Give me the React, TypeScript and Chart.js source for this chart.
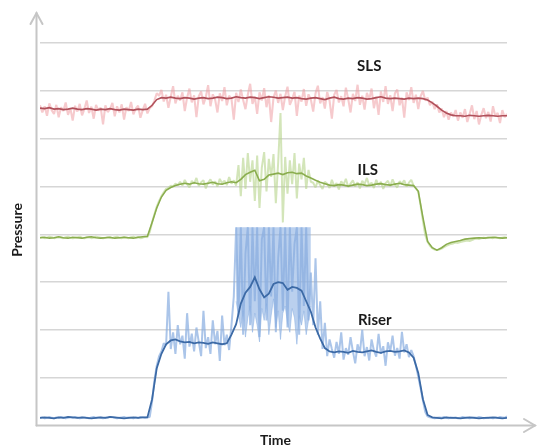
import { useEffect, useRef } from "react";
import { Chart, registerables } from "chart.js";

Chart.register(...registerables);

// ---- data (time axis 0..100, pressure in arbitrary units) ----
const RAW_STEP = 0.5;
const SMOOTH_STEP = 1;

const slsRaw = [
  6.70, 6.55, 6.68, 6.48, 6.74, 6.60, 6.52, 6.71, 6.45, 6.66,
  6.58, 6.76, 6.50, 6.64, 6.38, 6.69, 6.57, 6.73, 6.49, 6.62,
  6.80, 6.54, 6.67, 6.42, 6.71, 6.59, 6.65, 6.30, 6.70, 6.56,
  6.62, 6.75, 6.47, 6.68, 6.55, 6.72, 6.40, 6.66, 6.58, 6.77,
  6.51, 6.63, 6.69, 6.44, 6.60, 6.73, 6.53, 6.64,
  6.68, 6.80, 6.95, 6.90,
  7.02, 6.78, 6.92, 6.65, 6.88, 7.10, 6.74, 6.90,
  6.80, 6.97, 6.58, 6.86, 7.05, 6.76, 6.91, 6.45, 6.89, 6.99,
  6.72, 6.87, 7.12, 6.68, 6.93, 6.82, 6.55, 6.95, 6.79, 7.08,
  6.70, 6.90, 6.84, 6.40, 6.96, 6.77, 7.03, 6.81, 6.62, 6.92,
  7.15, 6.73, 6.88, 6.52, 6.97, 6.80, 7.06, 6.66, 6.91, 6.35,
  6.86, 7.01, 6.75, 6.94, 6.60, 6.89, 7.09, 6.71, 6.83, 6.98,
  6.48, 6.90, 6.78, 7.04, 6.69, 6.93, 6.82, 6.57, 6.95, 7.11,
  6.74, 6.87, 6.63, 6.98, 6.80, 6.42, 6.92, 7.02, 6.76, 6.89,
  6.68, 7.07, 6.83, 6.55, 6.94, 6.79, 7.13, 6.71, 6.90, 6.61,
  6.96, 6.82, 7.05, 6.64, 6.88, 6.50, 6.99, 6.77, 7.10, 6.73,
  6.91, 6.58, 6.95, 7.03, 6.70, 6.86, 6.44, 6.97, 6.81, 7.08,
  6.75, 6.92, 6.62, 6.89, 7.00,
  6.80, 6.86, 6.70, 6.78, 6.62, 6.72, 6.55, 6.63, 6.45, 6.58, 6.40, 6.55, 6.46, 6.60,
  6.38, 6.55, 6.44, 6.62, 6.35, 6.52, 6.70, 6.41, 6.58, 6.30,
  6.50, 6.64, 6.43, 6.56, 6.36, 6.68, 6.47, 6.54, 6.33, 6.60,
  6.45, 6.52,
];

const slsSmooth = [
  6.64, 6.63, 6.65, 6.62, 6.63, 6.61, 6.62, 6.64, 6.62, 6.61,
  6.63, 6.62, 6.60, 6.62, 6.61, 6.63, 6.61, 6.60, 6.62, 6.61,
  6.60, 6.62, 6.61, 6.62,
  6.70, 6.82, 6.86,
  6.85, 6.87, 6.85, 6.84, 6.86, 6.85, 6.83, 6.85, 6.86, 6.84,
  6.85, 6.87, 6.86, 6.84, 6.85, 6.88, 6.86, 6.85, 6.87, 6.86,
  6.84, 6.86, 6.88, 6.87, 6.85, 6.86, 6.87, 6.85, 6.86, 6.84,
  6.83, 6.85, 6.86, 6.84, 6.82, 6.85, 6.87, 6.84, 6.83, 6.85,
  6.84, 6.86, 6.85, 6.83, 6.84, 6.86, 6.88, 6.85, 6.84, 6.85,
  6.84, 6.83, 6.85, 6.84, 6.85, 6.84,
  6.81, 6.75, 6.68, 6.60, 6.54, 6.50, 6.48,
  6.48, 6.47, 6.49, 6.48, 6.47, 6.48, 6.49, 6.48, 6.47, 6.48, 6.48,
];

const ilsRaw = [
  3.93, 3.94, 3.92, 3.93, 3.95, 3.94, 3.92, 3.93, 3.94, 3.93,
  3.92, 3.94, 3.95, 3.93, 3.92, 3.93, 3.94, 3.95, 3.93, 3.92,
  3.93, 3.94, 3.92, 3.93, 3.95, 3.94, 3.93, 3.92, 3.93, 3.94,
  3.93, 3.92, 3.94, 3.95, 3.93, 3.92, 3.94, 3.93, 3.92, 3.94,
  3.95, 3.93, 3.94, 3.92, 3.93, 3.95, 3.94,
  4.05, 4.25, 4.42, 4.58, 4.70, 4.80, 4.88, 4.95, 4.97, 5.02, 5.00, 5.06, 5.03,
  5.10, 5.02, 5.14, 5.05, 4.98, 5.12, 5.06, 5.18, 5.01, 5.09,
  5.13, 4.96, 5.08, 5.15, 5.04, 5.11, 5.00, 5.16, 5.07, 5.12,
  5.03, 5.20, 5.06, 5.13, 5.02,
  5.45, 4.80, 5.60, 4.95, 5.70, 5.10, 5.55, 4.70, 5.65, 4.55,
  5.40, 5.72, 4.90, 5.58, 5.20, 5.68, 4.65, 5.50, 6.54, 4.25,
  5.62, 4.85, 5.55, 5.05, 5.70, 4.75, 5.48, 5.15, 5.60, 4.95,
  5.35, 5.10,
  5.08, 4.98, 5.12, 5.03, 4.95, 5.10, 5.06, 4.97, 5.14, 5.01,
  5.07, 4.94, 5.11, 5.04, 5.16, 4.99, 5.06, 5.13, 5.00, 5.09,
  4.96, 5.12, 5.05, 5.18, 5.02, 5.08, 4.97, 5.14, 5.03, 5.10,
  4.95, 5.07, 5.12, 5.01, 5.15, 5.04, 4.98, 5.11, 5.06, 5.13,
  5.00, 5.08, 5.14, 5.02, 4.96,
  4.90, 4.60, 4.28, 3.98, 3.84,
  3.76, 3.71, 3.68, 3.67, 3.68, 3.70, 3.73, 3.76, 3.78, 3.80,
  3.81, 3.83, 3.82, 3.84, 3.85, 3.86, 3.87, 3.86, 3.88, 3.90,
  3.91, 3.90, 3.92, 3.93, 3.92, 3.94, 3.93, 3.92, 3.94, 3.93,
  3.92, 3.93, 3.94, 3.93,
];

const ilsSmooth = [
  3.93, 3.94, 3.92, 3.93, 3.95, 3.93, 3.92, 3.94, 3.93, 3.92,
  3.94, 3.95, 3.93, 3.92, 3.93, 3.94, 3.92, 3.93, 3.94, 3.93,
  3.92, 3.94, 3.95,
  3.96, 4.25, 4.55, 4.78, 4.92, 4.98, 5.02, 5.05,
  5.07, 5.05, 5.08, 5.06, 5.05, 5.07, 5.09, 5.06, 5.05, 5.08, 5.10, 5.08,
  5.15, 5.25, 5.30, 5.34, 5.12, 5.15, 5.24, 5.26, 5.28, 5.25,
  5.29, 5.30, 5.27, 5.28, 5.22, 5.18, 5.13, 5.09, 5.06, 5.03,
  5.02, 5.04, 5.03, 5.01, 5.03, 5.05, 5.04, 5.02, 5.03, 5.05,
  5.06, 5.04, 5.03, 5.05, 5.07, 5.04, 5.03, 5.02,
  4.90, 4.35, 3.85, 3.72, 3.67, 3.72, 3.79, 3.83, 3.85, 3.87, 3.90,
  3.91, 3.92, 3.93, 3.92, 3.93, 3.94, 3.93, 3.92, 3.93,
];

const riserRaw = [
  0.16, 0.17, 0.15, 0.16, 0.18, 0.16, 0.15, 0.17, 0.16, 0.18,
  0.17, 0.15, 0.16, 0.17, 0.16, 0.18, 0.17, 0.15, 0.16, 0.17,
  0.16, 0.15, 0.17, 0.18, 0.16, 0.17, 0.16, 0.15, 0.17, 0.16,
  0.18, 0.17, 0.16, 0.15, 0.16, 0.17, 0.18, 0.16, 0.17, 0.16,
  0.15, 0.17, 0.16, 0.18, 0.17, 0.16, 0.17, 0.18,
  0.50, 0.95, 1.25, 1.45, 1.55, 1.72, 1.68,
  2.80, 1.60, 1.95, 1.50, 2.10, 1.70, 1.88, 1.40, 2.35, 1.65,
  1.92, 1.55, 2.05, 1.75, 1.45, 2.40, 1.62, 1.85, 1.50, 2.20,
  1.70, 1.98, 1.35, 2.30, 1.68, 1.90, 1.58,
  2.10, 2.70,
  4.15, 2.30, 4.15, 1.90, 3.60, 4.15, 2.10, 4.15, 2.60, 4.15,
  1.85, 3.90, 4.15, 2.20, 4.15, 2.70, 4.15, 1.95, 3.50, 4.15,
  2.40, 4.15, 2.05, 4.15, 2.80, 3.80, 4.15, 1.90, 4.15, 2.50,
  4.15, 2.20,
  3.20, 2.10, 3.50, 1.90, 2.60, 1.60, 2.15, 1.45, 1.80,
  1.60, 1.42, 1.75, 1.50, 1.95, 1.38, 1.62, 1.48, 1.85, 1.55,
  1.30, 1.70, 1.52, 2.00, 1.45, 1.64, 1.36, 1.80, 1.57, 1.44,
  1.92, 1.50, 1.66, 1.25, 1.74, 1.55, 1.88, 1.46, 1.62, 1.40,
  1.96, 1.53, 1.70, 1.43, 1.58,
  1.45, 1.25, 1.02, 0.78, 0.52, 0.28, 0.19,
  0.17, 0.16, 0.15, 0.16, 0.17, 0.16, 0.18, 0.16, 0.15, 0.17,
  0.16, 0.17, 0.15, 0.16, 0.18, 0.17, 0.16, 0.15, 0.16, 0.17,
  0.16, 0.18, 0.17, 0.15, 0.16, 0.17, 0.16, 0.15, 0.17, 0.16,
  0.18, 0.17, 0.16, 0.19,
];

// lower edge of the dense (saturated) riser burst, t = 42 .. 58
const RISER_BURST_START = 42;
const RISER_BURST_TOP = 4.15;
const riserBurstLow = [
  2.60, 2.30, 2.05, 2.40, 1.85, 2.25, 2.50, 1.95, 2.35, 2.10,
  1.75, 2.45, 2.20, 2.55, 1.90, 2.30, 2.65, 2.05, 2.40, 1.80,
  2.35, 2.50, 2.15, 1.95, 2.45, 2.25, 1.70, 2.30, 2.10, 2.40,
  1.90, 2.20, 2.50,
];

const riserSmooth = [
  0.16, 0.17, 0.16, 0.15, 0.17, 0.16, 0.18, 0.17, 0.16, 0.17,
  0.16, 0.15, 0.16, 0.17, 0.16, 0.18, 0.17, 0.16, 0.15, 0.16,
  0.17, 0.16, 0.17, 0.17,
  0.55, 1.20, 1.50, 1.70, 1.78, 1.80,
  1.76, 1.74, 1.75, 1.72, 1.74, 1.73, 1.71, 1.74, 1.72, 1.70,
  1.72, 1.90, 2.12, 2.55, 2.78, 2.90, 3.10, 2.85, 2.68, 2.76,
  2.96, 3.00, 2.98, 2.84, 2.90, 2.88, 2.82, 2.60, 2.38, 2.05,
  1.82, 1.62, 1.55,
  1.53, 1.55, 1.54, 1.52, 1.56, 1.54, 1.53, 1.55, 1.57, 1.54,
  1.52, 1.55, 1.56, 1.54, 1.55, 1.57, 1.53,
  1.42, 1.10, 0.55, 0.22, 0.17,
  0.16, 0.15, 0.17, 0.16, 0.16, 0.15, 0.16, 0.17, 0.16, 0.15,
  0.16, 0.16, 0.17, 0.16, 0.15, 0.16,
];

const seriesNames = ["SLS", "ILS", "Riser"];
const labelTimes = [70.5, 70.2, 71.7];
const labelLevels = [7.52, 5.34, 2.21];
const yTitle = "Pressure";
const xTitle = "Time";

const X_MAX = 100;
const Y_MAX = 8.6;
const GRID_VALUES = [1, 2, 3, 4, 5, 6, 7, 8];

function toPoints(values: number[], step: number, start = 0) {
  return values.map((v, i) => ({ x: start + i * step, y: v }));
}

const AXIS_COLOR = "#c6c6c6";

const overlayPlugin = {
  id: "overlay",
  beforeDatasetsDraw(chart: any) {
    const { ctx, chartArea } = chart;
    ctx.save();
    ctx.strokeStyle = AXIS_COLOR;
    ctx.lineWidth = 2;
    ctx.lineCap = "round";
    const ax = chartArea.left - 3.5;
    const ay = chartArea.bottom;
    const top = chartArea.top - 1.5;
    ctx.beginPath();
    ctx.moveTo(ax, ay);
    ctx.lineTo(ax, top);
    ctx.stroke();
    ctx.beginPath();
    ctx.moveTo(ax - 6, top + 11);
    ctx.lineTo(ax, top);
    ctx.lineTo(ax + 6, top + 11);
    ctx.stroke();
    const xEnd = chart.width - 2;
    ctx.beginPath();
    ctx.moveTo(ax, ay);
    ctx.lineTo(xEnd, ay);
    ctx.stroke();
    ctx.beginPath();
    ctx.moveTo(xEnd - 11, ay - 6.5);
    ctx.lineTo(xEnd, ay);
    ctx.lineTo(xEnd - 11, ay + 6.5);
    ctx.stroke();
    ctx.restore();
  },
  afterDraw(chart: any) {
    const { ctx, chartArea, scales } = chart;
    ctx.save();
    ctx.fillStyle = "#1b1b1b";
    ctx.textAlign = "center";
    ctx.textBaseline = "middle";
    ctx.font = "bold 15px Lato";
    seriesNames.forEach((name, i) => {
      ctx.fillText(name, scales.x.getPixelForValue(labelTimes[i]), scales.y.getPixelForValue(labelLevels[i]));
    });
    ctx.font = "bold 14px Lato";
    ctx.fillText(xTitle, (chartArea.left + chartArea.right) / 2 + 2, chartArea.bottom + 15);
    ctx.translate(17, (chartArea.top + chartArea.bottom) / 2 + 10);
    ctx.rotate(-Math.PI / 2);
    ctx.fillText(yTitle, 0, 0);
    ctx.restore();
  },
};

export default function App() {
  const ref = useRef<HTMLCanvasElement | null>(null);
  useEffect(() => {
    if (!ref.current) return;
    const chart = new Chart(ref.current, {
      type: "line",
      data: {
        datasets: [
          { data: toPoints(slsSmooth, SMOOTH_STEP), borderColor: "#b0505a", borderWidth: 1.6, order: 0 },
          {
            data: toPoints(slsRaw, RAW_STEP),
            borderColor: "rgba(238,158,164,0.55)",
            borderWidth: 2.1,
            borderJoinStyle: "bevel",
            order: 1,
          },
          { data: toPoints(ilsSmooth, SMOOTH_STEP), borderColor: "#8aad4e", borderWidth: 1.6, order: 0 },
          {
            data: toPoints(ilsRaw, RAW_STEP),
            borderColor: "rgba(182,212,138,0.6)",
            borderWidth: 2.0,
            borderJoinStyle: "bevel",
            order: 1,
          },
          { data: toPoints(riserSmooth, SMOOTH_STEP), borderColor: "#3c6aa6", borderWidth: 1.8, order: 0 },
          {
            data: toPoints(riserRaw, RAW_STEP),
            borderColor: "rgba(135,172,224,0.7)",
            borderWidth: 2.0,
            borderJoinStyle: "bevel",
            order: 1,
          },
          {
            data: toPoints(riserBurstLow, RAW_STEP, RISER_BURST_START),
            borderColor: "rgba(140,176,226,0.55)",
            backgroundColor: "rgba(140,176,226,0.6)",
            borderWidth: 1,
            fill: { value: RISER_BURST_TOP },
            order: 2,
          },
        ],
      },
      options: {
        responsive: false,
        animation: false,
        events: [],
        layout: { padding: { left: 40, right: 30, top: 14.5, bottom: 22.5 } },
        elements: { point: { radius: 0 }, line: { tension: 0 } },
        plugins: { legend: { display: false }, tooltip: { enabled: false } },
        scales: {
          x: {
            type: "linear",
            min: 0,
            max: X_MAX,
            ticks: { display: false },
            grid: { display: false, drawTicks: false },
            border: { display: false },
          },
          y: {
            type: "linear",
            min: 0,
            max: Y_MAX,
            ticks: { display: false, stepSize: 1 },
            grid: {
              drawTicks: false,
              lineWidth: 1.5,
              color: (c: any) => (GRID_VALUES.includes(c.tick?.value) ? "#d6d6d6" : "rgba(0,0,0,0)"),
            },
            border: { display: false },
          },
        },
      },
      plugins: [overlayPlugin],
    });
    return () => chart.destroy();
  }, []);
  return (
    <div style={{ position: "fixed", left: 0, top: 0, width: 537, height: 448, background: "#fff" }}>
      <canvas ref={ref} width={537} height={448} style={{ width: 537, height: 448, display: "block" }} />
    </div>
  );
}
